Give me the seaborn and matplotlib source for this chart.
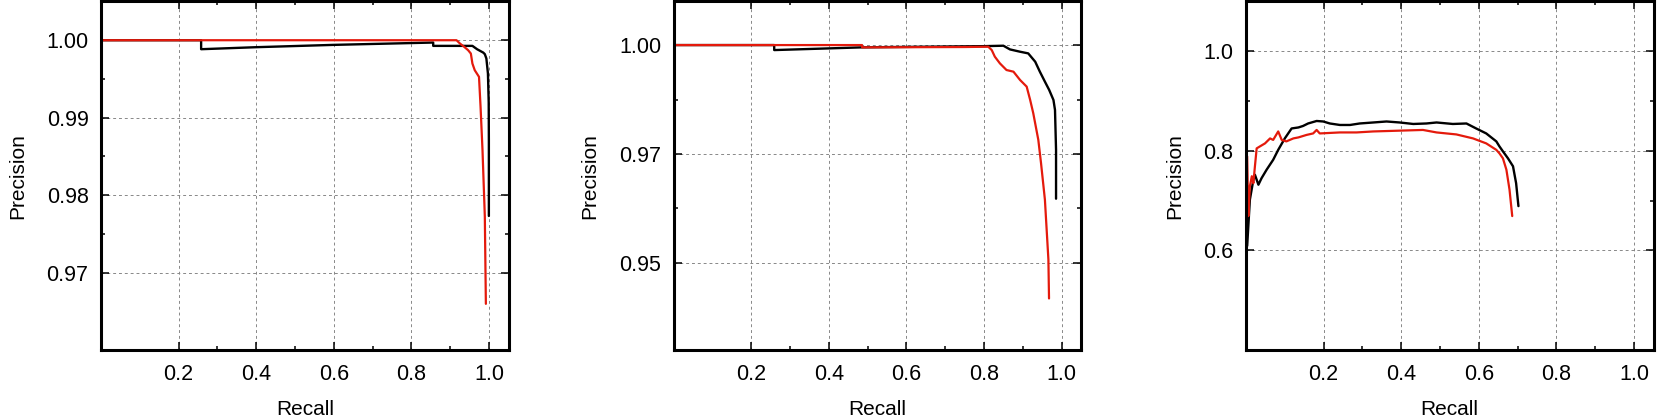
import matplotlib
matplotlib.use("Agg")
import matplotlib.pyplot as plt
import seaborn as sns

# panel 1 - curves
p1_black_recall = [0.0, 0.258, 0.258, 0.40, 0.60, 0.856, 0.856, 0.957, 0.969, 0.985, 0.989, 0.993, 0.997, 0.999, 0.9994, 0.9994]
p1_black_prec = [1.0, 1.0, 0.99884, 0.99910, 0.99940, 0.9997, 0.99927, 0.99927, 0.99884, 0.9984, 0.9982, 0.99764, 0.9957, 0.9920, 0.9870, 0.97731]
p1_red_recall = [0.0, 0.916, 0.925, 0.936, 0.946, 0.953, 0.957, 0.963, 0.974, 0.978, 0.983, 0.989, 0.9917]
p1_red_prec = [1.0, 1.0, 0.99957, 0.99914, 0.99871, 0.99828, 0.99699, 0.99613, 0.99527, 0.9914, 0.98582, 0.97722, 0.96596]

# panel 2
p2_black_recall = [0.0, 0.2595, 0.2595, 0.485, 0.65, 0.80, 0.85, 0.867, 0.893, 0.914, 0.932, 0.944, 0.957, 0.968, 0.979, 0.983, 0.9857, 0.9857]
p2_black_prec = [1.0, 1.0, 0.99885, 0.99947, 0.99962, 0.99975, 0.99985, 0.9990, 0.99847, 0.99809, 0.99618, 0.99389, 0.9916, 0.9897, 0.9874, 0.98511, 0.97595, 0.96473]
p2_red_recall = [0.0, 0.486, 0.486, 0.75, 0.811, 0.820, 0.828, 0.841, 0.858, 0.876, 0.893, 0.910, 0.919, 0.927, 0.940, 0.947, 0.957, 0.966, 0.9676]
p2_red_prec = [1.0, 1.0, 0.99947, 0.99955, 0.99962, 0.99885, 0.99733, 0.9958, 0.99427, 0.99389, 0.99198, 0.99046, 0.9874, 0.98435, 0.97824, 0.9729, 0.9645, 0.95076, 0.94183]

# panel 3
p3_black_recall = [0.003, 0.010, 0.019, 0.023, 0.032, 0.040, 0.053, 0.070, 0.083, 0.100, 0.1175, 0.135, 0.147, 0.160, 0.182,
                   0.199, 0.216, 0.242, 0.268, 0.293, 0.328, 0.362, 0.396, 0.431, 0.465, 0.491, 0.533, 0.568, 0.593, 0.619,
                   0.645, 0.653, 0.662, 0.675, 0.688, 0.696, 0.702]
p3_black_prec = [0.609, 0.702, 0.742, 0.752, 0.732, 0.745, 0.762, 0.782, 0.802, 0.825, 0.845, 0.847, 0.850, 0.855, 0.860,
                 0.859, 0.855, 0.852, 0.852, 0.855, 0.857, 0.859, 0.857, 0.854, 0.855, 0.857, 0.854, 0.855, 0.845, 0.835,
                 0.819, 0.809, 0.799, 0.785, 0.769, 0.735, 0.689]
p3_red_recall = [0.003, 0.006, 0.010, 0.015, 0.019, 0.023, 0.0275, 0.036, 0.049, 0.062, 0.070, 0.083, 0.092, 0.104, 0.122,
                 0.135, 0.156, 0.173, 0.182, 0.190, 0.242, 0.285, 0.328, 0.371, 0.413, 0.456, 0.491, 0.542, 0.585, 0.619,
                 0.645, 0.653, 0.662, 0.671, 0.679, 0.686]
p3_red_prec = [0.789, 0.669, 0.729, 0.749, 0.735, 0.769, 0.805, 0.809, 0.815, 0.825, 0.822, 0.839, 0.822, 0.819, 0.825,
               0.827, 0.832, 0.835, 0.842, 0.835, 0.837, 0.837, 0.839, 0.840, 0.841, 0.842, 0.837, 0.833, 0.825, 0.815,
               0.802, 0.795, 0.785, 0.762, 0.722, 0.669]

# ticks
x_ticks = [0.2, 0.4, 0.6, 0.8, 1.0]
x_labels = ["0.2", "0.4", "0.6", "0.8", "1.0"]
x_minor = [0.3, 0.5, 0.7, 0.9]
p1_yticks = [0.97, 0.98, 0.99, 1.00]
p1_ylabels = ["0.97", "0.98", "0.99", "1.00"]
p1_yminor = [0.975, 0.985, 0.995]
p2_yticks = [0.95, 0.975, 1.00]
p2_ylabels = ["0.95", "0.97", "1.00"]
p2_yminor = [0.9625, 0.9875]
p3_yticks = [0.6, 0.8, 1.0]
p3_ylabels = ["0.6", "0.8", "1.0"]
p3_yminor = [0.7, 0.9]

sns.set_style("ticks")
plt.rcParams['font.family'] = ['Liberation Sans', 'DejaVu Sans']
plt.rcParams['text.color'] = 'black'
plt.rcParams['axes.labelcolor'] = 'black'
plt.rcParams['xtick.color'] = 'black'
plt.rcParams['ytick.color'] = 'black'

fig = plt.figure(figsize=(16.6, 4.19), dpi=100)
lefts = [101 / 1660, 673.5 / 1660, 1246 / 1660]
width = 407.5 / 1660
bottom = 1 - 350 / 419
height = 348.5 / 419

panels = [
    (p1_black_recall, p1_black_prec, p1_red_recall, p1_red_prec, (0.96, 1.005), p1_yticks, p1_ylabels, p1_yminor),
    (p2_black_recall, p2_black_prec, p2_red_recall, p2_red_prec, (0.93, 1.01), p2_yticks, p2_ylabels, p2_yminor),
    (p3_black_recall, p3_black_prec, p3_red_recall, p3_red_prec, (0.4, 1.1), p3_yticks, p3_ylabels, p3_yminor),
]

for i, (bx, by, rx, ry, ylim, yt, yl, ym) in enumerate(panels):
    ax = fig.add_axes([lefts[i], bottom, width, height])
    sns.lineplot(x=bx, y=by, sort=False, estimator=None, color="black", linewidth=1.7, ax=ax)
    sns.lineplot(x=rx, y=ry, sort=False, estimator=None, color="#e41a0c", linewidth=1.6, ax=ax)
    ax.set_xlim(0, 1.05)
    ax.set_ylim(*ylim)
    ax.set_xticks(x_ticks)
    ax.set_xticklabels(x_labels)
    ax.set_xticks(x_minor, minor=True)
    ax.set_yticks(yt)
    ax.set_yticklabels(yl)
    ax.set_yticks(ym, minor=True)
    ax.grid(True, which="major", color="#888888", linestyle=(0, (3, 3)), linewidth=0.7)
    ax.tick_params(which="both", direction="in", top=True, right=True, width=1.1, labelsize=15.5, color="black")
    ax.tick_params(which="major", length=6)
    ax.tick_params(which="minor", length=3)
    ax.tick_params(axis="y", pad=9)
    ax.tick_params(axis="x", pad=10)
    for s in ax.spines.values():
        s.set_linewidth(2.2)
        s.set_color("black")
    ax.set_xlabel("Recall", fontsize=15, labelpad=11)
    ax.set_ylabel("Precision", fontsize=15, labelpad=14)

plt.savefig("out.png", dpi=100)
